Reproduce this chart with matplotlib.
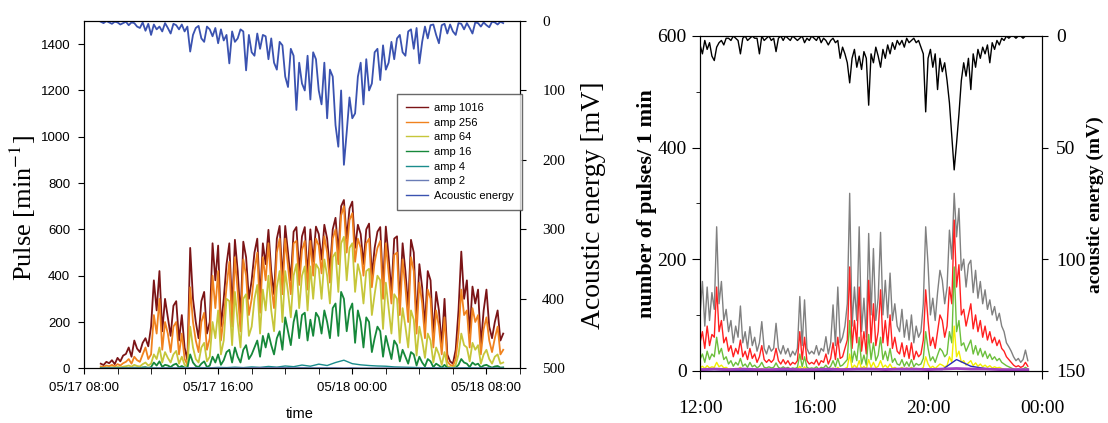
import numpy as np
import pandas as pd
import matplotlib
matplotlib.use("Agg")
import matplotlib.pyplot as plt
import matplotlib.dates as mdates
from matplotlib.lines import Line2D

plt.rcParams['font.family'] = ['Liberation Sans', 'DejaVu Sans']
plt.rcParams['mathtext.fontset'] = 'stix'

# ---------------- left chart: 05/17 09:00 -> 05/18 09:00 (10 min) ----------------
t_left = pd.date_range('2010-05-17 09:00', '2010-05-18 09:00', freq='10min')
t_left30 = pd.date_range('2010-05-17 09:00', '2010-05-18 09:00', freq='30min')

amp_1016 = [
    20, 14, 28, 22, 35, 18,        # 09
    45, 30, 55, 62, 90, 50,        # 10
    120, 85, 70, 110, 130, 95,     # 11
    180, 380, 250, 420, 160, 300,  # 12
    220, 140, 270, 290, 120, 230,  # 13
    90, 35, 520, 300, 200, 130,    # 14
    290, 330, 150, 200, 540, 380,  # 15
    530, 180, 300, 450, 540, 250,  # 16
    555, 420, 220, 547, 480, 300,  # 17
    380, 500, 560, 300, 540, 450,  # 18
    598, 420, 320, 560, 615, 380,  # 19
    615, 500, 380, 590, 610, 420,  # 20
    570, 610, 400, 600, 460, 612,  # 21
    580, 470, 620, 560, 420, 600,  # 22
    650, 500, 700, 727, 560, 690,  # 23
    720, 520, 620, 580, 450, 600,  # 00
    625, 400, 520, 590, 610, 350,  # 01
    612, 480, 330, 560, 570, 280,  # 02
    540, 420, 260, 555, 500, 200,  # 03
    450, 350, 180, 420, 380, 140,  # 04
    330, 250, 100, 300, 60, 30,    # 05
    20, 80, 250, 504, 300, 380,    # 06
    150, 353, 280, 340, 100, 250,  # 07
    340, 180, 130, 200, 250, 120,  # 08
    150,
]
amp_256 = [
    8, 6, 12, 9, 15, 8,
    18, 12, 22, 28, 40, 20,
    50, 35, 28, 60, 90, 40,
    60, 230, 150, 300, 80, 200,
    150, 70, 180, 200, 60, 150,
    40, 15, 350, 200, 120, 70,
    200, 240, 80, 130, 400, 260,
    420, 120, 220, 350, 460, 180,
    480, 330, 160, 470, 400, 230,
    300, 420, 500, 240, 480, 380,
    540, 360, 260, 500, 560, 320,
    560, 440, 320, 540, 550, 360,
    510, 550, 340, 550, 400, 560,
    530, 410, 570, 500, 370, 560,
    600, 450, 660, 700, 500, 640,
    670, 460, 560, 520, 400, 540,
    560, 350, 460, 520, 550, 300,
    540, 410, 280, 490, 500, 230,
    470, 350, 200, 480, 420, 150,
    370, 280, 130, 340, 300, 90,
    250, 180, 60, 220, 30, 15,
    10, 40, 150, 340, 230, 250,
    90, 260, 200, 230, 60, 170,
    220, 120, 70, 130, 180, 60,
    80,
]
amp_64 = [
    3, 2, 4, 3, 5, 3,
    6, 4, 7, 9, 12, 7,
    15, 10, 8, 18, 25, 12,
    20, 60, 40, 90, 25, 70,
    45, 25, 60, 75, 20, 50,
    15, 8, 180, 90, 40, 25,
    90, 110, 30, 50, 200, 130,
    250, 60, 120, 300, 290, 100,
    330, 200, 90, 300, 320, 140,
    180, 300, 360, 150, 340, 250,
    400, 250, 160, 350, 420, 200,
    420, 330, 220, 400, 450, 260,
    400, 440, 250, 440, 300, 450,
    430, 300, 470, 400, 280, 480,
    500, 330, 540, 568, 380, 520,
    540, 330, 450, 400, 280, 420,
    430, 230, 320, 400, 380, 170,
    370, 260, 150, 320, 300, 110,
    260, 180, 90, 250, 210, 55,
    180, 120, 45, 150, 120, 25,
    90, 60, 15, 70, 8, 5,
    4, 15, 60, 150, 100, 90,
    30, 110, 80, 100, 20, 60,
    80, 40, 20, 50, 60, 20,
    25,
]
amp_16 = [
    1, 0, 1, 1, 1, 0,
    1, 0, 2, 2, 2, 1,
    3, 2, 1, 4, 5, 2,
    5, 25, 12, 30, 6, 15,
    12, 5, 15, 20, 4, 10,
    3, 2, 60, 25, 10, 5,
    20, 30, 5, 12, 50, 25,
    60, 15, 35, 70, 80, 25,
    90, 50, 25, 80, 100, 40,
    60, 90, 120, 50, 140, 90,
    150, 100, 60, 130, 160, 80,
    220, 160, 100, 200, 250, 130,
    230, 240, 120, 210, 140, 240,
    220, 150, 250, 200, 130, 260,
    280, 140, 330, 300, 160, 250,
    280, 110, 250, 200, 90, 220,
    200, 70, 130, 180, 160, 50,
    140, 90, 40, 120, 100, 30,
    80, 50, 20, 70, 60, 12,
    50, 25, 8, 40, 30, 5,
    20, 12, 3, 15, 2, 1,
    1, 3, 15, 40, 25, 20,
    5, 25, 15, 20, 4, 12,
    15, 8, 3, 8, 10, 3,
    4,
]
# 30 min steps
amp_4 = [0, 0, 1, 0, 1, 1, 2, 1, 2, 1, 3, 2, 3, 2, 4, 3, 5, 3, 6, 4, 8, 5, 10, 7,
         14, 9, 18, 12, 25, 35, 20, 15, 12, 10, 9, 6, 5, 4, 3, 2, 2, 1, 1, 2, 2, 1,
         1, 1, 0]
amp_2 = [0, 1, 0, 1, 1, 0, 1, 1, 1, 1, 1, 2, 1, 2, 2, 1, 2, 2, 2, 3, 2, 3, 3, 2,
         3, 2, 2, 2, 2, 1, 2, 1, 1, 1, 1, 1, 1, 0, 1, 1, 1, 0, 1, 1, 0, 1, 1, 0, 0]
acoustic_left = [
    1, 3, 0, 2, 4, 1,
    2, 5, 3, 1, 6, 2,
    3, 8, 10, 2, 14, 4,
    20, 5, 12, 8, 15, 3,
    10, 18, 4, 6, 12, 5,
    15, 8, 44, 20, 10, 7,
    25, 30, 8, 12, 22, 10,
    32, 12, 28, 20, 61, 15,
    30, 25, 12, 15, 71, 20,
    45, 50, 18, 40, 20, 22,
    55, 25, 60, 70, 30, 35,
    80, 95, 40, 50, 128, 60,
    90, 100, 50, 113, 45, 55,
    100, 120, 60, 140, 70, 80,
    150, 181, 100, 207, 160, 110,
    140, 133, 80, 60, 120, 55,
    100, 90, 45, 40, 85, 35,
    70, 60, 30, 55, 25, 20,
    45, 50, 15, 12, 40, 10,
    61, 30, 8, 25, 6, 5,
    20, 32, 6, 4, 18, 5,
    15, 20, 3, 4, 12, 3,
    10, 18, 2, 3, 8, 2,
    6, 9, 1, 2, 5, 1,
    3,
]
left_names = ['amp 1016', 'amp 256', 'amp 64', 'amp 16', 'amp 4', 'amp 2', 'Acoustic energy']
left_colors = ['#7b1416', '#f0821e', '#c6c63a', '#16883a', '#1a8c8c', '#6a7cb6', '#3a52b0']

# ---------------- right chart: 12:00 -> 23:30 (5 min) ----------------
t_right = pd.date_range('2010-05-17 12:00', '2010-05-17 23:30', freq='5min')
t_right30 = pd.date_range('2010-05-17 12:00', '2010-05-17 23:30', freq='30min')

gray_p = [
    100, 160, 80, 150, 90, 140, 110, 258, 120, 160, 90, 110,
    70, 90, 50, 80, 60, 116, 50, 70, 40, 79, 45, 60,
    35, 50, 88, 40, 30, 45, 35, 40, 85, 40, 30, 45,
    30, 40, 25, 35, 28, 40, 133, 45, 127, 40, 30, 35,
    30, 45, 28, 40, 35, 61, 30, 50, 118, 45, 150, 50,
    60, 80, 120, 318, 80, 150, 90, 258, 70, 130, 60, 246,
    100, 219, 90, 130, 248, 100, 162, 95, 175, 90, 120, 80,
    70, 110, 60, 91, 55, 100, 50, 80, 60, 70, 120, 258,
    190, 100, 130, 90, 140, 180, 162, 120, 150, 252, 200, 318,
    240, 291, 180, 200, 150, 190, 198, 140, 180, 130, 160, 120,
    145, 110, 127, 100, 115, 90, 103, 80, 70, 50, 43, 35,
    25, 18, 22, 15, 20, 37, 18,
]
red_p = [
    50, 70, 40, 80, 45, 65, 60, 150, 70, 90, 50, 60,
    35, 45, 25, 40, 30, 55, 25, 35, 20, 40, 22, 30,
    15, 25, 45, 20, 15, 20, 15, 20, 40, 18, 12, 20,
    12, 18, 10, 15, 12, 18, 70, 20, 60, 18, 12, 15,
    12, 20, 10, 18, 15, 30, 12, 22, 50, 20, 60, 22,
    25, 40, 55, 186, 40, 90, 50, 150, 35, 70, 30, 162,
    50, 120, 45, 70, 145, 50, 90, 45, 100, 40, 60, 35,
    30, 50, 25, 45, 22, 50, 20, 35, 25, 30, 55, 145,
    90, 45, 60, 40, 70, 100, 90, 60, 80, 150, 120, 270,
    150, 190, 100, 110, 80, 100, 120, 75, 100, 70, 90, 60,
    80, 55, 70, 50, 60, 45, 55, 40, 35, 25, 20, 15,
    10, 7, 9, 6, 8, 15, 8,
]
green_p = [
    20, 30, 15, 35, 20, 30, 25, 60, 30, 40, 20, 25,
    12, 18, 8, 15, 10, 22, 8, 12, 6, 15, 7, 10,
    5, 8, 15, 6, 5, 7, 5, 6, 14, 6, 4, 7,
    4, 6, 3, 5, 4, 6, 30, 7, 25, 6, 4, 5,
    4, 7, 3, 6, 5, 10, 4, 8, 18, 7, 22, 8,
    10, 15, 20, 90, 15, 35, 18, 60, 12, 28, 10, 65,
    20, 50, 18, 28, 60, 20, 35, 18, 40, 15, 22, 12,
    10, 20, 8, 16, 8, 20, 7, 13, 10, 12, 22, 70,
    40, 18, 25, 15, 28, 40, 35, 25, 30, 70, 50, 186,
    70, 90, 45, 50, 35, 45, 55, 30, 45, 28, 40, 25,
    35, 22, 30, 20, 25, 18, 22, 15, 12, 9, 7, 5,
    3, 2, 3, 2, 3, 6, 3,
]
yellow_p = [
    5, 8, 4, 9, 5, 7, 6, 15, 7, 10, 5, 6,
    3, 4, 2, 4, 3, 6, 2, 3, 2, 4, 2, 3,
    1, 2, 4, 2, 1, 2, 1, 2, 4, 2, 1, 2,
    1, 2, 1, 1, 1, 2, 8, 2, 7, 2, 1, 1,
    1, 2, 1, 2, 1, 3, 1, 2, 5, 2, 6, 2,
    3, 4, 6, 30, 4, 10, 5, 18, 3, 8, 3, 20,
    6, 15, 5, 8, 18, 6, 10, 5, 12, 4, 6, 3,
    3, 6, 2, 5, 2, 6, 2, 4, 3, 3, 6, 25,
    12, 5, 8, 4, 8, 12, 10, 7, 9, 25, 15, 80,
    25, 35, 15, 18, 10, 14, 18, 9, 14, 8, 12, 7,
    10, 6, 9, 5, 7, 5, 6, 4, 3, 2, 2, 1,
    1, 1, 1, 1, 1, 2, 1,
]
# 30 min steps
blue_p = [1, 2, 1, 1, 1, 1, 1, 1, 1, 1, 2, 2, 2, 3, 2, 2, 3, 2, 20, 8, 4, 2, 1, 1]
purple_p = [2, 3, 2, 3, 2, 2, 3, 2, 2, 3, 2, 3, 3, 2, 3, 3, 2, 3, 4, 3, 3, 2, 2, 2]
acoustic_right = [
    4, 8, 2, 6, 3, 9, 11, 5, 3, 2, 4, 1,
    1, 2, 0, 1, 2, 8, 1, 0, 2, 1, 0, 1,
    1, 8, 0, 2, 1, 0, 2, 1, 7, 1, 0, 2,
    0, 1, 2, 0, 1, 2, 1, 0, 3, 1, 2, 0,
    1, 2, 0, 3, 1, 2, 4, 2, 1, 3, 2, 10,
    5, 8, 12, 21, 10, 6, 14, 9, 15, 7, 10, 31,
    8, 12, 5, 9, 14, 6, 10, 4, 8, 3, 6, 2,
    4, 2, 5, 1, 3, 2, 1, 3, 2, 5, 8, 34,
    10, 6, 14, 8, 24, 10, 16, 12, 20, 30, 45, 60,
    48, 35, 20, 12, 18, 10, 24, 8, 14, 6, 10, 5,
    8, 4, 12, 3, 6, 2, 4, 1, 2, 0, 1, 0,
    0, 1, 0, 0, 1, 0, 0,
]

fig = plt.figure(figsize=(11.08, 4.23), dpi=100)

# ---- left panel ----
ax = fig.add_axes([0.0758, 0.1293, 0.3935, 0.821])
ax.plot(t_left, amp_1016, color=left_colors[0], lw=1.3)
ax.plot(t_left, amp_256, color=left_colors[1], lw=1.3)
ax.plot(t_left, amp_64, color=left_colors[2], lw=1.3)
ax.plot(t_left, amp_16, color=left_colors[3], lw=1.3)
ax.plot(t_left30, amp_4, color=left_colors[4], lw=1.0)
ax.plot(t_left30, amp_2, color=left_colors[5], lw=1.0)
ax.set_xlim(pd.Timestamp('2010-05-17 08:00'), pd.Timestamp('2010-05-18 10:00'))
ax.set_ylim(0, 1500)
ax.set_yticks(range(0, 1401, 200))
ax.xaxis.set_major_locator(mdates.HourLocator(byhour=[0, 8, 16]))
ax.xaxis.set_major_formatter(mdates.DateFormatter('%m/%d %H:%M'))
ax.xaxis.set_minor_locator(mdates.HourLocator(interval=2))
ax.tick_params(which='both', direction='out', length=4, labelsize=9.5, pad=6)
ax.set_xlabel('time', fontsize=10.5)
ax.xaxis.set_label_coords(0.495, -0.112)
ax.set_ylabel('Pulse [min$^{-1}$]', fontsize=19, family='Liberation Serif')
ax.yaxis.set_label_coords(-0.105, 0.46)

ax2 = ax.twinx()
ax2.plot(t_left, acoustic_left, color=left_colors[6], lw=1.3)
ax2.set_ylim(500, 0)
ax2.set_yticks(range(0, 501, 100))
ax2.tick_params(direction='out', length=4, labelsize=11, pad=12)
for lbl in ax2.get_yticklabels():
    lbl.set_family('Liberation Serif')
ax2.set_ylabel('Acoustic energy [mV]', fontsize=20, family='Liberation Serif')
ax2.yaxis.set_label_coords(1.14, 0.47)

handles = [Line2D([], [], color=c, lw=1.0) for c in left_colors]
leg = ax2.legend(handles, left_names, loc='upper left', bbox_to_anchor=(0.718, 0.79),
                 borderaxespad=0, fontsize=8, fancybox=False, frameon=True,
                 handlelength=2.0, handletextpad=0.5, labelspacing=0.42,
                 borderpad=0.8)
leg.get_frame().set_edgecolor('#444444')
leg.get_frame().set_linewidth(1.0)

# ---- right panel ----
ax3 = fig.add_axes([0.6318, 0.1236, 0.3087, 0.7913])
ax3.plot(t_right, gray_p, color='#808080', lw=1.0)
ax3.plot(t_right, red_p, color='#ff2020', lw=1.0)
ax3.plot(t_right, green_p, color='#6cbf3c', lw=1.0)
ax3.plot(t_right, yellow_p, color='#f2ee00', lw=1.0)
ax3.plot(t_right30, blue_p, color='#2a2ab8', lw=1.0)
ax3.plot(t_right30, purple_p, color='#a040c0', lw=2.0)
ax3.set_xlim(pd.Timestamp('2010-05-17 12:00'), pd.Timestamp('2010-05-18 00:00'))
ax3.set_ylim(0, 600)
ax3.set_yticks([0, 200, 400, 600])
ax3.set_yticks([100, 300, 500], minor=True)
ax3.xaxis.set_major_locator(mdates.HourLocator(byhour=[0, 4, 8, 12, 16, 20]))
ax3.xaxis.set_major_formatter(mdates.DateFormatter('%H:%M'))
ax3.xaxis.set_minor_locator(mdates.HourLocator())
ax3.tick_params(which='major', direction='out', length=6)
ax3.tick_params(which='minor', direction='out', length=3)
ax3.tick_params(axis='x', pad=15)
ax3.tick_params(labelsize=14, labelfontfamily='Liberation Serif')
ax3.set_ylabel('number of pulses/ 1 min', fontsize=16, fontweight='bold',
               family='Liberation Serif')
ax3.yaxis.set_label_coords(-0.126, 0.5)

ax4 = ax3.twinx()
ax4.plot(t_right, acoustic_right, color='black', lw=1.0)
ax4.set_ylim(150, 0)
ax4.set_yticks([0, 50, 100, 150])
ax4.tick_params(direction='out', length=4, labelsize=14, pad=6,
                labelfontfamily='Liberation Serif')
ax4.set_ylabel('acoustic energy (mV)', fontsize=14, fontweight='bold',
               family='Liberation Serif')
ax4.yaxis.set_label_coords(1.13, 0.495)

fig.savefig('out.png', dpi=100)
